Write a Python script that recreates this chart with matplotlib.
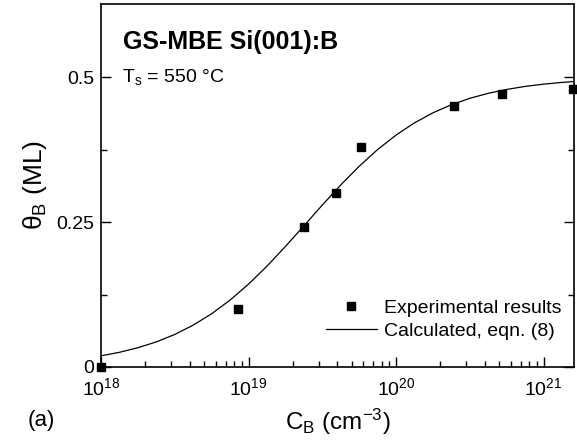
import matplotlib
matplotlib.use('Agg')
import matplotlib.pyplot as plt
from matplotlib.ticker import LogLocator, FixedLocator

plt.rcParams['font.family'] = ['Liberation Sans', 'DejaVu Sans']
plt.rcParams['mathtext.fontset'] = 'custom'
plt.rcParams['mathtext.rm'] = 'Liberation Sans'
plt.rcParams['mathtext.it'] = 'Liberation Sans:italic'
plt.rcParams['mathtext.bf'] = 'Liberation Sans:bold'

# experimental points
exp_C = [1.0e18, 8.5e18, 2.37e19, 3.92e19, 5.75e19, 2.46e20, 5.2e20, 1.57e21]
exp_theta = [0.0, 0.10, 0.242, 0.30, 0.38, 0.45, 0.47, 0.48]

# calculated curve, read at 1/8-decade steps
calc_logC = [18.0, 18.125, 18.25, 18.375, 18.5, 18.625, 18.75, 18.875,
             19.0, 19.125, 19.25, 19.375, 19.5, 19.625, 19.75, 19.875,
             20.0, 20.125, 20.25, 20.375, 20.5, 20.625, 20.75, 20.875,
             21.0, 21.125, 21.25]
calc_theta = [0.0192, 0.0253, 0.0332, 0.0433, 0.0561, 0.0722, 0.0918, 0.1154,
              0.1429, 0.1739, 0.2078, 0.2434, 0.2792, 0.3139, 0.3461, 0.375,
              0.400, 0.4211, 0.4384, 0.4523, 0.4634, 0.4720, 0.4787, 0.4839,
              0.4878, 0.4908, 0.4931]
calc_C = [10 ** v for v in calc_logC]

yticks = [0, 0.25, 0.5]
ytick_labels = ['0', '0.25', '0.5']

fig = plt.figure(figsize=(5.77, 4.47), dpi=100)
ax = fig.add_axes([0.175, 0.179, 0.820, 0.812])

ax.plot(calc_C, calc_theta, color='black', lw=0.9, label='Calculated, eqn. (8)')
ax.plot(exp_C, exp_theta, ls='none', marker='s', ms=6, color='black',
        clip_on=False, zorder=5, label='Experimental results')

ax.set_xscale('log')
ax.set_xlim(1e18, 1.61e21)
ax.set_ylim(0, 0.626)

ax.xaxis.set_major_locator(LogLocator(base=10, numticks=10))
ax.xaxis.set_minor_locator(LogLocator(base=10, subs=range(2, 10), numticks=100))
ax.yaxis.set_major_locator(FixedLocator(yticks))
ax.set_yticklabels(ytick_labels)
ax.yaxis.set_minor_locator(FixedLocator([0.125, 0.375]))

ax.tick_params(which='both', direction='in', right=True, top=False, labelsize=14)
ax.tick_params(axis='x', pad=7)
ax.tick_params(axis='y', pad=5)
ax.tick_params(which='major', length=7, width=1)
ax.tick_params(which='minor', length=4.5, width=1)
for s in ax.spines.values():
    s.set_linewidth(1.2)

ax.set_xlabel('C$_\\mathregular{B}$ (cm$^\\mathregular{-3}$)', fontsize=17.5, labelpad=6)
ax.set_ylabel('θ$_\\mathregular{B}$ (ML)', fontsize=19, labelpad=5)

ax.text(0.047, 0.895, 'GS-MBE Si(001):B', transform=ax.transAxes,
        fontsize=18, fontweight='bold', va='center')
ax.text(0.045, 0.80, 'T$_\\mathregular{s}$ = 550 °C', transform=ax.transAxes,
        fontsize=14, va='center')
fig.text(0.048, 0.06, '(a)', fontsize=16, va='center')

h, l = ax.get_legend_handles_labels()
ax.legend(h[::-1], l[::-1], loc='center left', frameon=False, fontsize=14,
          handlelength=2.6, handletextpad=0.36, labelspacing=0.3,
          borderpad=0, borderaxespad=0, bbox_to_anchor=(0.476, 0.131))

fig.savefig('out.png', dpi=100)
